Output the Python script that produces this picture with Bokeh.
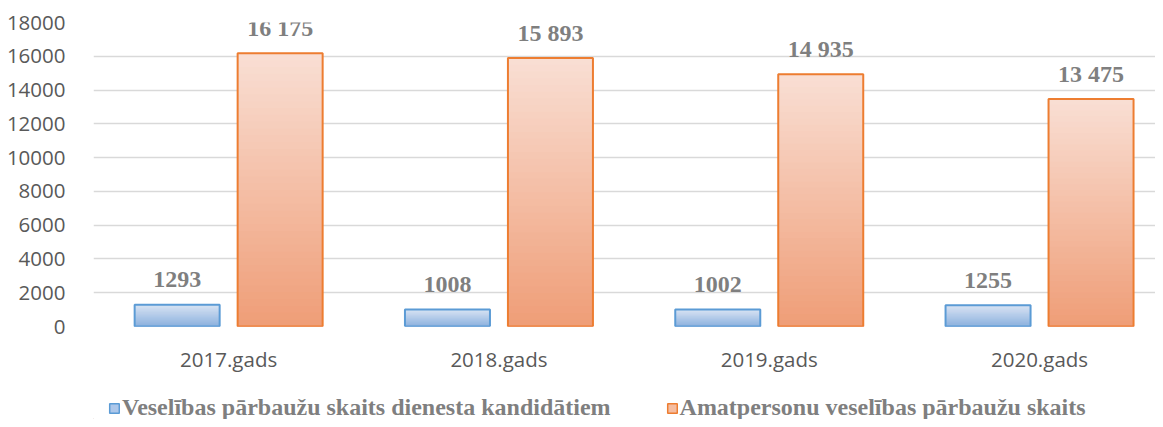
from bokeh.plotting import figure
from bokeh.layouts import column
from bokeh.models import (Range1d, ColumnDataSource, Legend, LegendItem,
                          SingleIntervalTicker, FixedTicker, NumeralTickFormatter)
from bokeh.core.properties import value
from bokeh.embed import file_html
from bokeh.resources import INLINE

years = ["2017.gads", "2018.gads", "2019.gads", "2020.gads"]
candidates = [1293, 1008, 1002, 1255]
officials = [16175, 15893, 14935, 13475]
candidates_text = ["1293", "1008", "1002", "1255"]
officials_text = ["16 175", "15 893", "14 935", "13 475"]
series_names = ["Veselības pārbaužu skaits dienesta kandidātiem",
                "Amatpersonu veselības pārbaužu skaits"]

W = 1155
LEFT = 93
CAT_PX = 270.3
pos = [i + 0.5 for i in range(len(years))]   # category centres on the axis

p = figure(x_range=Range1d(0, (W - LEFT) / CAT_PX), y_range=(0, 18000),
           width=W, height=375, output_backend="svg", toolbar_location=None,
           min_border_left=LEFT, min_border_top=22, min_border_right=0,
           min_border_bottom=40)
p.outline_line_color = None
p.background_fill_color = "white"
p.border_fill_color = "white"

# axes
p.yaxis.ticker = SingleIntervalTicker(interval=2000)
p.yaxis.formatter = NumeralTickFormatter(format="0")
p.xaxis.ticker = FixedTicker(ticks=pos)
p.xaxis.major_label_overrides = {x: y for x, y in zip(pos, years)}
for ax in (p.xaxis, p.yaxis):
    ax.axis_line_color = None
    ax.major_tick_line_color = None
    ax.minor_tick_line_color = None
    ax.major_label_text_font = "Open Sans"
    ax.major_label_text_font_size = "20.5px"
    ax.major_label_text_color = "#595959"
p.yaxis.major_label_standoff = 22
p.xaxis.major_label_standoff = 12
p.xgrid.grid_line_color = None
p.ygrid.grid_line_color = "#D9D9D9"
p.ygrid.grid_line_width = 1.5

BW = 0.3145
OFF = 0.1905
N = 40


def hexmix(c1, c2, t):
    a = [int(c1[i:i + 2], 16) for i in (1, 3, 5)]
    b = [int(c2[i:i + 2], 16) for i in (1, 3, 5)]
    return "#%02x%02x%02x" % tuple(round(a[j] + (b[j] - a[j]) * t) for j in range(3))


def gradient_bars(vals, off, top_col, bot_col, line_col):
    xs = [x + off for x in pos]
    # painter's gradient: tallest (lightest) first, then shorter darker ones
    for k in range(N):
        frac = (N - k) / N
        src = ColumnDataSource(dict(x=xs, top=[v * frac for v in vals]))
        col = hexmix(top_col, bot_col, k / (N - 1))
        p.vbar(x="x", top="top", width=BW, source=src,
               fill_color=col, line_color=None)
    src = ColumnDataSource(dict(x=xs, top=vals))
    p.vbar(x="x", top="top", width=BW, source=src,
           fill_alpha=0, line_color=line_col, line_width=2)


gradient_bars(candidates, -OFF, "#D8E3F3", "#8CB1DE", "#5B9BD5")
gradient_bars(officials, OFF, "#F9DED3", "#EF9E78", "#ED7D31")

# data labels
for vals, txt, off in ((candidates, candidates_text, -OFF), (officials, officials_text, OFF)):
    src = ColumnDataSource(dict(x=[x + off for x in pos], y=vals, t=txt))
    p.text(x="x", y="y", text="t", source=src,
           text_align="center", text_baseline="alphabetic", y_offset=-25,
           text_font=value("Liberation Serif"), text_font_style="bold",
           text_font_size="24px", text_color="#7F7F7F")

# legend strip (separate figure under the chart)
q = figure(width=W, height=44, output_backend="svg", toolbar_location=None,
           x_axis_type=None, y_axis_type=None, x_range=(0, 1), y_range=(0, 1),
           min_border_left=LEFT, min_border_right=0, min_border_top=0,
           min_border_bottom=0)
q.outline_line_color = None
q.xgrid.grid_line_color = None
q.ygrid.grid_line_color = None
# legend-only renderers, their data lies outside the visible range
r1 = q.vbar(x=[-5], top=[-5], bottom=[-6], width=0.1,
            fill_color="#ADC7EA", line_color="#5B9BD5", line_width=1.5)
r2 = q.vbar(x=[-5], top=[-5], bottom=[-6], width=0.1,
            fill_color="#F5BDA1", line_color="#ED7D31", line_width=1.5)
legend = Legend(items=[LegendItem(label=series_names[0], renderers=[r1]),
                       LegendItem(label=series_names[1], renderers=[r2])],
                orientation="horizontal", location=(15, -2),
                glyph_width=12, glyph_height=12, label_standoff=2, spacing=55,
                padding=0, margin=0, border_line_alpha=0, background_fill_alpha=0,
                label_text_font="Liberation Serif", label_text_font_style="bold",
                label_text_font_size="24px", label_text_color="#7F7F7F",
                label_height=24)
q.add_layout(legend, "center")

open("out.html", "w").write(file_html(column(p, q, spacing=0), INLINE))
